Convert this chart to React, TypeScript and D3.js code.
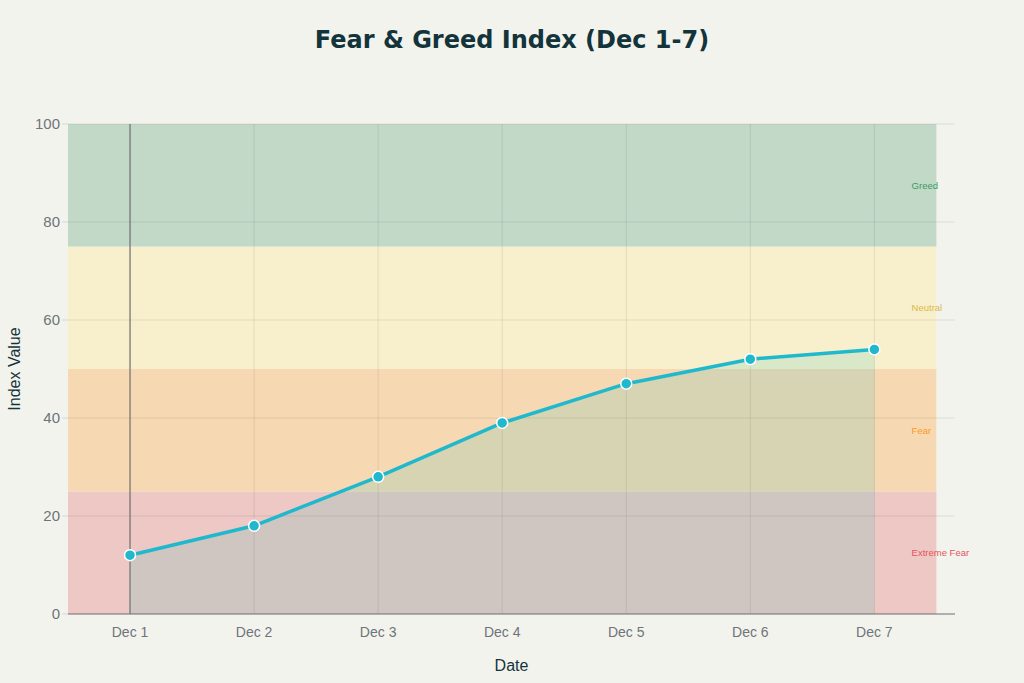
import React from "react";
import * as d3 from "d3";

const categories = ["Dec 1", "Dec 2", "Dec 3", "Dec 4", "Dec 5", "Dec 6", "Dec 7"];
const indexValues = [12, 18, 28, 39, 47, 52, 54];
const yTicks = [0, 20, 40, 60, 80, 100];
const zoneNames = ["Extreme Fear", "Fear", "Neutral", "Greed"];
const zoneLows = [0, 25, 50, 75];
const zoneHighs = [25, 50, 75, 100];
const zoneFills = ["#eec8c5", "#f6d9b2", "#f8f0cc", "#c2d9c8"];
const zoneTextColors = ["#e5535d", "#ff9a1f", "#d9b94a", "#3a9a62"];

export default function App() {
  const W = 1024;
  const H = 683;
  const left = 68;
  const right = 955;
  const top = 124;
  const bottom = 614;

  const x = d3.scaleLinear().domain([-0.5, 6.65]).range([left, right]);
  const y = d3.scaleLinear().domain([0, 100]).range([bottom, top]);

  const pts: [number, number][] = indexValues.map((v, i) => [x(i), y(v)]);
  const line = d3.line<[number, number]>()(pts) || "";
  const area =
    d3
      .area<[number, number]>()
      .x((d) => d[0])
      .y0(y(0))
      .y1((d) => d[1])(pts) || "";

  const tickFont = "'Liberation Sans', Arial, sans-serif";

  return (
    <svg
      width={W}
      height={H}
      style={{ position: "absolute", left: 0, top: 0, display: "block" }}
    >
      <rect x={0} y={0} width={W} height={H} fill="#f3f3ee" />
      {zoneNames.map((n, i) => (
        <rect
          key={n}
          x={x(-0.5)}
          y={y(zoneHighs[i])}
          width={x(6.5) - x(-0.5)}
          height={y(zoneLows[i]) - y(zoneHighs[i])}
          fill={zoneFills[i]}
        />
      ))}
      {yTicks.map((t) => (
        <g key={t}>
          {t > 0 && (
            <line x1={left} x2={right} y1={y(t)} y2={y(t)} stroke="rgba(0,0,0,0.09)" strokeWidth={1} />
          )}
          <line x1={left - 6} x2={left} y1={y(t)} y2={y(t)} stroke="rgba(0,0,0,0.12)" strokeWidth={1} />
          <text
            x={left - 8}
            y={y(t)}
            dy="0.35em"
            textAnchor="end"
            fontFamily={tickFont}
            fontSize={15}
            fill="#6e7479"
          >
            {t}
          </text>
        </g>
      ))}
      {categories.map((c, i) =>
        i > 0 ? (
          <line key={c} x1={x(i)} x2={x(i)} y1={top} y2={bottom} stroke="rgba(0,0,0,0.09)" strokeWidth={1} />
        ) : null
      )}
      <line x1={x(0)} x2={x(0)} y1={top} y2={bottom} stroke="#6d6d6d" strokeWidth={1.2} />
      <path d={area} fill="rgba(31,190,180,0.15)" />
      <line x1={left} x2={right} y1={bottom} y2={bottom} stroke="#6d6d6d" strokeWidth={1.2} />
      {categories.map((c, i) => (
        <text
          key={c}
          x={x(i)}
          y={bottom + 23}
          textAnchor="middle"
          fontFamily={tickFont}
          fontSize={14}
          fill="#6e7479"
        >
          {c}
        </text>
      ))}
      <path d={line} fill="none" stroke="#1fb8cd" strokeWidth={3.5} strokeLinejoin="round" />
      {pts.map((p, i) => (
        <circle key={i} cx={p[0]} cy={p[1]} r={5.5} fill="#1fb8cd" stroke="#ffffff" strokeWidth={1.5} />
      ))}
      {zoneNames.map((n, i) => (
        <text
          key={n}
          x={x(6.3)}
          y={y((zoneLows[i] + zoneHighs[i]) / 2)}
          dy="0.35em"
          fontFamily={tickFont}
          fontSize={9.5}
          fill={zoneTextColors[i]}
        >
          {n}
        </text>
      ))}
      <text
        x={512}
        y={48}
        textAnchor="middle"
        fontFamily="'DejaVu Sans', sans-serif"
        fontWeight="bold"
        fontSize={24}
        fill="#13343b"
      >
        Fear &amp; Greed Index (Dec 1-7)
      </text>
      <text
        x={(left + right) / 2}
        y={671}
        textAnchor="middle"
        fontFamily={tickFont}
        fontSize={16}
        fill="#13343b"
      >
        Date
      </text>
      <text
        transform={`translate(20,${(top + bottom) / 2}) rotate(-90)`}
        textAnchor="middle"
        fontFamily={tickFont}
        fontSize={16}
        fill="#13343b"
      >
        Index Value
      </text>
    </svg>
  );
}
